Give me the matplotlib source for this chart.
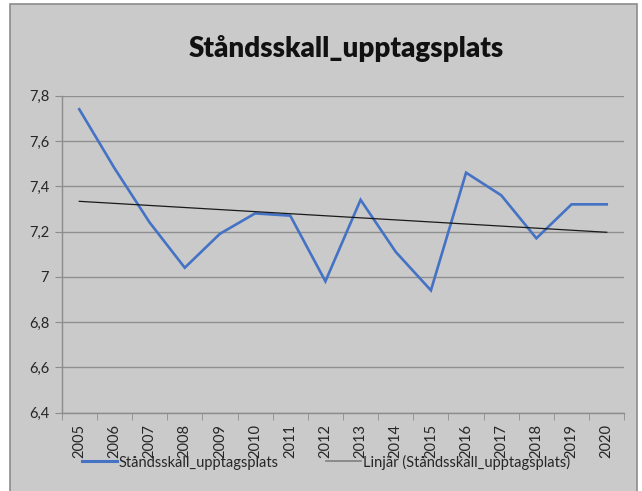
import matplotlib
matplotlib.use("Agg")
import matplotlib.pyplot as plt
import numpy as np
from matplotlib.patches import Rectangle
from matplotlib.lines import Line2D

years = ["2005", "2006", "2007", "2008", "2009", "2010", "2011", "2012",
         "2013", "2014", "2015", "2016", "2017", "2018", "2019", "2020"]
values = [7.74, 7.48, 7.24, 7.04, 7.19, 7.28, 7.27, 6.98,
          7.34, 7.11, 6.94, 7.46, 7.36, 7.17, 7.32, 7.32]
y_ticks = [6.4, 6.6, 6.8, 7.0, 7.2, 7.4, 7.6, 7.8]
y_tick_labels = ["6,4", "6,6", "6,8", "7", "7,2", "7,4", "7,6", "7,8"]
title = "Ståndsskall_upptagsplats"
series_name = "Ståndsskall_upptagsplats"
trend_name = "Linjär (Ståndsskall_upptagsplats)"

W, H = 642, 491
fig = plt.figure(figsize=(W / 100, H / 100), dpi=100)
fig.patch.set_facecolor("white")
bg = "#cacaca"
fig.patches.append(Rectangle((10 / W, -0.01), (637 - 10) / W, 1 - 4 / H + 0.01,
                             transform=fig.transFigure, facecolor=bg,
                             edgecolor="#8c8c8c", linewidth=1.2, zorder=-5))

font = "Lato"
left, right = 61.7, 624.3
top, bottom = 95.7, 412.6
ax = fig.add_axes([left / W, 1 - bottom / H, (right - left) / W, (bottom - top) / H])
ax.set_zorder(1)
ax.patch.set_alpha(0)

x = np.arange(len(years))
ax.plot(x, values, color="#4472C4", linewidth=1.9, solid_joinstyle="miter", zorder=3)
coef = np.polyfit(x, values, 1)
trend = np.polyval(coef, x)
ax.plot(x, trend, color="#1a1a1a", linewidth=0.9, zorder=4)

ax.set_xlim(-0.5, len(years) - 0.5)
ax.set_ylim(6.4, 7.8)
ax.set_yticks(y_ticks)
ax.set_yticklabels(y_tick_labels, fontfamily=font, fontsize=10.5, color="#262626")
ax.set_xticks(x)
ax.set_xticklabels(years, rotation=90, fontfamily=font, fontsize=10.5, color="#262626")
ax.set_xticks(np.arange(-0.5, len(years)), minor=True)
ax.tick_params(axis="x", which="major", length=0, pad=8)
ax.tick_params(axis="x", which="minor", length=5, color="#8c8c8c", direction="out")
ax.tick_params(axis="y", length=5, color="#8c8c8c", direction="out", pad=4)
ax.grid(axis="y", color="#8f8f8f", linewidth=1.0, zorder=1)
for s in ["top", "right"]:
    ax.spines[s].set_visible(False)
for s in ["left", "bottom"]:
    ax.spines[s].set_color("#8c8c8c")
    ax.spines[s].set_linewidth(1.0)

fig.text(346 / W, 1 - 49 / H, title, ha="center", va="center",
         fontfamily=font, fontweight="heavy", fontsize=20, color="#111111")

handles = [Line2D([], [], color="#4472C4", linewidth=2.2),
           Line2D([], [], color="#7f7f7f", linewidth=1.2)]
leg = fig.legend(handles, [series_name, trend_name], loc="center left",
                 bbox_to_anchor=(76 / W, 1 - 462 / H), ncol=2, frameon=False,
                 prop={"family": font, "size": 10.5}, handlelength=2.4,
                 handletextpad=0.15, columnspacing=3.2, borderaxespad=0)
leg.set_zorder(5)
for t in leg.get_texts():
    t.set_color("#262626")

fig.savefig("out.png", dpi=100, facecolor=fig.get_facecolor())
